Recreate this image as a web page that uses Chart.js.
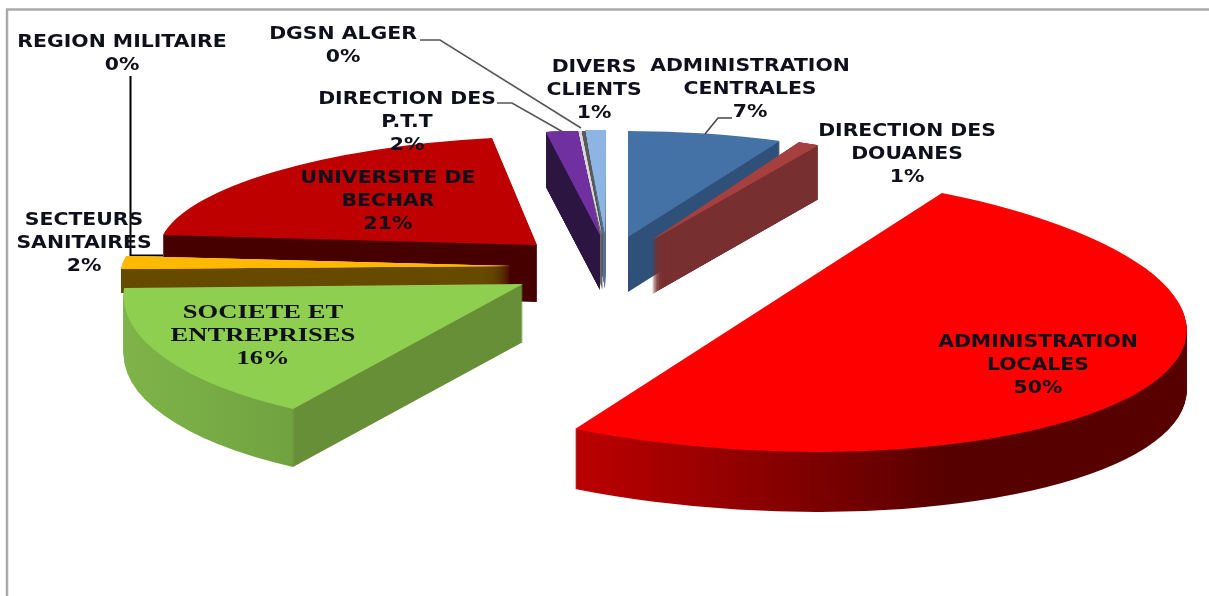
<!DOCTYPE html>
<html>
<head>
<meta charset="utf-8">
<style>html,body{margin:0;padding:0;background:#fff}canvas{display:block}</style>
<script src="https://cdn.jsdelivr.net/npm/chart.js@4/dist/chart.umd.min.js"></script>
</head>
<body>
<canvas id="c" width="1209" height="596"></canvas>
<script>
const categories = ["ADMINISTRATION CENTRALES","DIRECTION DES DOUANES","ADMINISTRATION LOCALES","SOCIETE ET ENTREPRISES","SECTEURS SANITAIRES","UNIVERSITE DE BECHAR","DIRECTION DES P.T.T","DGSN ALGER","REGION MILITAIRE","DIVERS CLIENTS"];
const shares = [7,1,50,16,2,20.6,2,0.2,0.2,1];
const topColors = ["#4472a6","#a5403e","#ff0000","#8fcf50","#ffb900","#bf0000","#7030a0","#d8d8d8","#595959","#8db4e2"];
const wallStops = [
  [[0,"#2f5078"],[1,"#2f5078"]],
  [[0,"#772f2f"],[1,"#772f2f"]],
  [[0,"#bb0000"],[0.2,"#9c0000"],[0.5,"#6a0000"],[0.6,"#570000"],[1,"#570000"]],
  [[0,"#7fb44a"],[0.42,"#70a340"],[0.43,"#678f38"],[1,"#678f38"]],
  [[0,"#664a00"],[1,"#664a00"]],
  [[0,"#470000"],[1,"#470000"]],
  [[0,"#2c1540"],[1,"#2c1540"]],
  [[0,"#707070"],[1,"#707070"]],
  [[0,"#3c3c3c"],[1,"#3c3c3c"]],
  [[0,"#56708e"],[1,"#56708e"]]
];
// per-slice projection of the pie circle: apex, unit-x image, unit-y image, wall depth
const sliceFrames = [
  {a:[628,237],u:[357,0],v:[0,106],d:55},
  {a:[652,240],u:[345,0],v:[0,108],d:54},
  {a:[758.5,311],u:[427.5,10.6],v:[25.7,140.5],d:60},
  {a:[523,284],u:[397,5.15],v:[-44.2,145.5],d:58},
  {a:[511,266],u:[388,3.5],v:[-40,103.5],d:24},
  {a:[537,245],u:[377,3.16],v:[-35.8,108.8],d:57},
  {a:[600,235],u:[257.5,7.7],v:[-0.6,103.7],d:55},
  {a:[602,235],u:[275,0],v:[0,104],d:55},
  {a:[602.5,235],u:[275,0],v:[0,104],d:55},
  {a:[605,233],u:[335,0],v:[-1,103],d:55}
];
const drawOrder = [5,9,8,7,6,0,1,4,3,2];
const thinSlices = [1,4,6,7,8,9];
const labelLines = [
  {t:["ADMINISTRATION","CENTRALES"],x:750,y:66.5},
  {t:["DIRECTION DES","DOUANES"],x:907,y:131.5},
  {t:["ADMINISTRATION","LOCALES"],x:1038,y:342.5},
  {t:["SOCIETE ET","ENTREPRISES"],x:263,y:313},
  {t:["SECTEURS","SANITAIRES"],x:84,y:220.5},
  {t:["UNIVERSITE DE","BECHAR"],x:388,y:178.5},
  {t:["DIRECTION DES","P.T.T"],x:407,y:99.5},
  {t:["DGSN ALGER"],x:343,y:34.5},
  {t:["REGION MILITAIRE"],x:122,y:42.5},
  {t:["DIVERS","CLIENTS"],x:594,y:67.5}
];
const serifLabel = 3;
const leaders = [
  {p:[[130.5,76],[130.5,255.5],[163,255.5]],c:"#000",w:2},
  {p:[[420,40],[440,40],[581,128]],c:"#555",w:1.5},
  {p:[[497,103],[512,103],[563,132]],c:"#555",w:1.5},
  {p:[[705,134],[718,118],[732,118]],c:"#444",w:1.5}
];

const off = document.createElement("canvas");
off.width = 1209; off.height = 596;
const offCtx = off.getContext("2d");

function applyFrame(ctx, el, f, dy){
  const R = el.outerRadius;
  const a = f.u[0]/R, b = f.u[1]/R, c = f.v[0]/R, d = f.v[1]/R;
  ctx.setTransform(a,b,c,d, f.a[0]-a*el.x-c*el.y, f.a[1]+dy-b*el.x-d*el.y);
}

const pie3d = {
  id:"pie3d",
  beforeDraw(chart){
    const ctx = chart.ctx;
    ctx.save();
    ctx.strokeStyle = "#aaaaaa"; ctx.lineWidth = 2.5;
    ctx.beginPath(); ctx.moveTo(1209,9.5); ctx.lineTo(7,9.5); ctx.lineTo(7,596); ctx.stroke();
    ctx.restore();
  },
  beforeDatasetsDraw(chart){
    const ctx = chart.ctx;
    const arcs = chart.getDatasetMeta(0).data;
    ctx.save();
    leaders.slice(0,1).forEach(l=>drawLeader(ctx,l));
    ctx.restore();
    drawOrder.forEach(i=>{
      const el = arcs[i], f = sliceFrames[i];
      const passes = thinSlices.includes(i) ? 3 : 1;
      offCtx.setTransform(1,0,0,1,0,0);
      offCtx.clearRect(0,0,1209,596);
      for(let s=f.d;s>=1;s--){ applyFrame(offCtx,el,f,s); el.draw(offCtx); }
      offCtx.setTransform(1,0,0,1,0,0);
      offCtx.globalCompositeOperation = "source-in";
      const x0 = i===2?577:(i===3?122:0), x1 = i===2?1186:(i===3?525:1209);
      const g = offCtx.createLinearGradient(x0,0,x1,0);
      wallStops[i].forEach(st=>g.addColorStop(st[0],st[1]));
      offCtx.fillStyle = g;
      offCtx.fillRect(0,0,1209,596);
      offCtx.globalCompositeOperation = "source-over";
      ctx.save();
      ctx.setTransform(1,0,0,1,0,0);
      for(let p=0;p<passes;p++) ctx.drawImage(off,0,0);
      applyFrame(ctx,el,f,0);
      for(let p=0;p<passes;p++) el.draw(ctx);
      ctx.restore();
    });
    return false;
  },
  afterDraw(chart){
    const ctx = chart.ctx;
    ctx.save();
    ctx.setTransform(1,0,0,1,0,0);
    leaders.slice(1).forEach(l=>drawLeader(ctx,l));
    ctx.textAlign = "center"; ctx.textBaseline = "middle"; ctx.fillStyle = "#10101c";
    labelLines.forEach((l,i)=>{
      const serif = i===serifLabel;
      ctx.font = serif ? 'bold 19px "Liberation Serif"' : 'bold 17px "DejaVu Sans"';
      const sx = serif ? 1.4 : 1.2;
      const lines = l.t.concat([Math.round(shares[i])+"%"]);
      lines.forEach((s,k)=>{
        ctx.save();
        ctx.translate(l.x,l.y+k*23);
        ctx.scale(sx,1);
        ctx.fillText(s,0,0);
        ctx.restore();
      });
    });
    ctx.restore();
  }
};
function drawLeader(ctx,l){
  ctx.strokeStyle = l.c; ctx.lineWidth = l.w;
  ctx.beginPath();
  l.p.forEach((q,k)=>k?ctx.lineTo(q[0],q[1]):ctx.moveTo(q[0],q[1]));
  ctx.stroke();
}

new Chart(document.getElementById("c"),{
  type:"pie",
  data:{labels:categories,datasets:[{data:shares,backgroundColor:topColors,borderWidth:0}]},
  options:{
    responsive:false,animation:false,
    layout:{padding:0},
    plugins:{legend:{display:false},tooltip:{enabled:false},title:{display:false}}
  },
  plugins:[pie3d]
});
</script>
</body>
</html>
